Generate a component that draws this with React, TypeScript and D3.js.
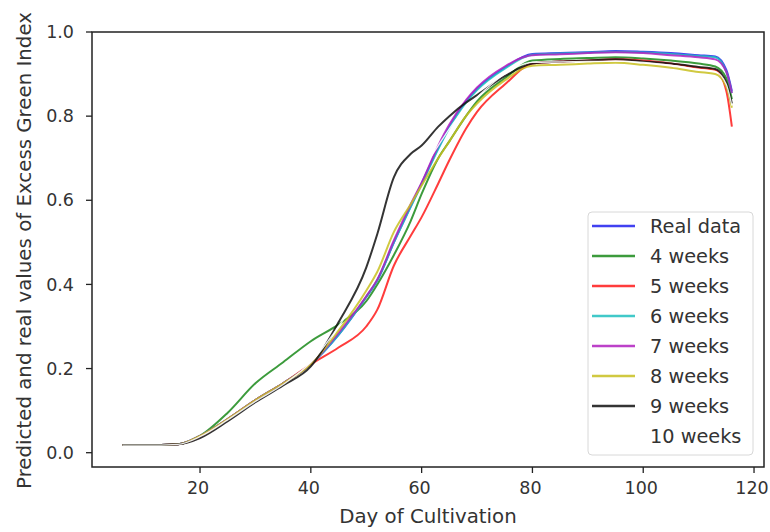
import React from "react";
import * as d3 from "d3";

const days = [6, 10, 16, 20, 25, 30, 35, 40, 45, 50, 52, 55, 58, 60, 63, 65, 68, 70, 75, 80, 85, 90, 95, 100, 105, 110, 113, 115, 116];

const realData = [0.018, 0.018, 0.02, 0.04, 0.08, 0.125, 0.165, 0.21, 0.28, 0.37, 0.41, 0.5, 0.585, 0.64, 0.725, 0.775, 0.835, 0.865, 0.915, 0.948, 0.95, 0.952, 0.955, 0.953, 0.95, 0.945, 0.942, 0.91, 0.86];
const weeks4 = [0.018, 0.018, 0.02, 0.04, 0.095, 0.165, 0.215, 0.265, 0.305, 0.36, 0.4, 0.47, 0.55, 0.615, 0.7, 0.74, 0.8, 0.835, 0.89, 0.932, 0.936, 0.938, 0.94, 0.937, 0.932, 0.925, 0.918, 0.89, 0.84];
const weeks5 = [0.018, 0.018, 0.02, 0.038, 0.08, 0.125, 0.165, 0.21, 0.25, 0.3, 0.34, 0.445, 0.515, 0.56, 0.64, 0.695, 0.77, 0.81, 0.875, 0.925, 0.93, 0.932, 0.935, 0.932, 0.925, 0.915, 0.91, 0.86, 0.775];
const weeks6 = [0.018, 0.018, 0.02, 0.04, 0.08, 0.125, 0.165, 0.21, 0.28, 0.37, 0.41, 0.5, 0.583, 0.638, 0.722, 0.772, 0.832, 0.862, 0.913, 0.946, 0.949, 0.951, 0.953, 0.951, 0.948, 0.943, 0.94, 0.905, 0.855];
const weeks7 = [0.018, 0.018, 0.02, 0.04, 0.08, 0.125, 0.165, 0.21, 0.285, 0.372, 0.412, 0.505, 0.59, 0.642, 0.73, 0.78, 0.838, 0.868, 0.918, 0.945, 0.947, 0.95, 0.952, 0.95, 0.945, 0.94, 0.935, 0.905, 0.855];
const weeks8 = [0.018, 0.018, 0.02, 0.04, 0.08, 0.125, 0.165, 0.21, 0.29, 0.385, 0.43, 0.525, 0.59, 0.635, 0.7, 0.74, 0.8, 0.83, 0.885, 0.92, 0.922, 0.925, 0.927, 0.922, 0.915, 0.905, 0.9, 0.87, 0.82];
const weeks9 = [0.018, 0.018, 0.02, 0.035, 0.075, 0.12, 0.16, 0.205, 0.31, 0.44, 0.52, 0.655, 0.71, 0.73, 0.775, 0.8, 0.832, 0.85, 0.895, 0.925, 0.93, 0.932, 0.935, 0.93, 0.925, 0.917, 0.912, 0.88, 0.83];
const weeks10 = [0.018, 0.018, 0.02, 0.038, 0.078, 0.122, 0.162, 0.215, 0.3, 0.4, 0.45, 0.56, 0.63, 0.67, 0.73, 0.77, 0.82, 0.845, 0.9, 0.928, 0.929, 0.93, 0.931, 0.928, 0.921, 0.911, 0.906, 0.875, 0.825];

const seriesNames = ["Real data", "4 weeks", "5 weeks", "6 weeks", "7 weeks", "8 weeks", "9 weeks", "10 weeks"];
const seriesValues = [realData, weeks4, weeks5, weeks6, weeks7, weeks8, weeks9, weeks10];
const seriesColors = ["#2020ee", "#1a8a1a", "#ff1a1a", "#20c0c0", "#b020c0", "#c8c020", "#111111", "#ffffff"];

const xTicks = [20, 40, 60, 80, 100, 120];
const yTicks = [0.0, 0.2, 0.4, 0.6, 0.8, 1.0];

const W = 770;
const H = 532;
const left = 92, right = 764, top = 32, bottom = 467;
const FONT = "DejaVu Sans, sans-serif";
const TICK_FS = 17.5;
const LEG_FS = 19.3;
const LAB_FS = 19.8;
const TXT = "#333333";

export default function App() {
  const x = d3.scaleLinear().domain([0.5, 121.8]).range([left, right]);
  const y = d3.scaleLinear().domain([-0.034, 1.0]).range([bottom, top]);
  const line = d3
    .line<number>()
    .x((_, i) => x(days[i]))
    .y((v) => y(v))
    .curve(d3.curveMonotoneX);

  const legX = 588, legY = 212, legW = 165, legH = 243;
  const rowY0 = 226, rowStep = 30;

  return (
    <svg width={W} height={H} style={{ position: "absolute", left: 0, top: 0, background: "#fff" }} fontFamily={FONT}>
      <rect x={0} y={0} width={W} height={H} fill="#fff" />
      <g>
        {seriesValues.map((vals, i) => (
          <path
            key={seriesNames[i]}
            d={line(vals) || ""}
            fill="none"
            stroke={seriesColors[i]}
            strokeWidth={i === 7 ? 1.3 : 2}
            strokeOpacity={i === 7 ? 0.9 : 0.85}
            strokeLinejoin="round"
          />
        ))}
      </g>
      <rect x={left} y={top} width={right - left} height={bottom - top} fill="none" stroke="#222" strokeWidth={1.5} />
      {xTicks.map((t) => (
        <g key={"x" + t}>
          <line x1={x(t)} x2={x(t)} y1={bottom} y2={bottom + 6} stroke="#222" strokeWidth={1.3} />
          <text x={x(t) - 2} y={bottom + 27} textAnchor="middle" fontSize={TICK_FS} fill={TXT}>
            {t}
          </text>
        </g>
      ))}
      {yTicks.map((t) => (
        <g key={"y" + t}>
          <line x1={left - 6} x2={left} y1={y(t)} y2={y(t)} stroke="#222" strokeWidth={1.3} />
          <text x={left - 18} y={y(t)} dy="0.35em" textAnchor="end" fontSize={TICK_FS} fill={TXT}>
            {t.toFixed(1)}
          </text>
        </g>
      ))}
      <text x={(left + right) / 2} y={523} textAnchor="middle" fontSize={LAB_FS} fill={TXT}>
        Day of Cultivation
      </text>
      <text
        transform={`translate(31, ${(top + bottom) / 2 + 1}) rotate(-90)`}
        textAnchor="middle"
        fontSize={LAB_FS}
        fill={TXT}
      >
        Predicted and real values of Excess Green Index
      </text>
      <rect x={legX} y={legY} width={legW} height={legH} rx={4} fill="#fff" fillOpacity={0.85} stroke="#d8d8d8" strokeWidth={1} />
      {seriesNames.map((name, i) => (
        <g key={"leg" + name}>
          <line x1={592} x2={635} y1={rowY0 + i * rowStep} y2={rowY0 + i * rowStep} stroke={seriesColors[i]} strokeWidth={2.5} strokeOpacity={0.85} />
          <text x={650} y={rowY0 + i * rowStep} dy="0.35em" fontSize={LEG_FS} fill={TXT}>
            {name}
          </text>
        </g>
      ))}
    </svg>
  );
}
